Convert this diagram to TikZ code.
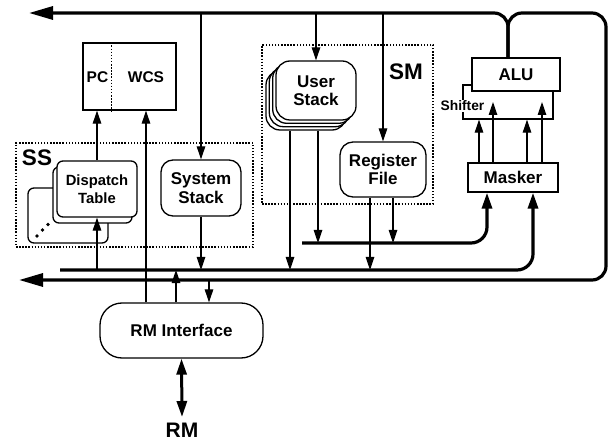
\documentclass[tikz,border=0pt]{standalone}
\usepackage{fontspec}
\setmainfont{Liberation Sans}
\usetikzlibrary{arrows.meta}
\begin{document}
\begin{tikzpicture}[x=1pt,y=-1pt,
  lbl/.style={font=\bfseries\fontsize{17}{18.5}\selectfont, align=center},
  rbox/.style={draw, line width=1.3pt, fill=white, rounded corners=#1, inner sep=0pt},
  rbox/.default=12pt,
  sqbox/.style={draw, line width=1.3pt, fill=white, inner sep=0pt},
  dotbox/.style={draw, line width=1.7pt, dash pattern=on 1.5pt off 1.6pt, inner sep=0pt},
  divider/.style={line width=1.5pt, dash pattern=on 1.5pt off 1.6pt},
  thinarr/.style={line width=1.2pt, -{Triangle[length=13pt,width=8.5pt]}},
  bus/.style={line width=3.2pt},
  busarr/.style={bus, -{Triangle[length=24pt,width=13pt]}},
  fatarr/.style={line width=3pt, -{Triangle[length=16pt,width=10pt]}},
  biglbl/.style={font=\bfseries\fontsize{22.5}{22.5}\selectfont}
]
\useasboundingbox (0,0) rectangle (612,443);

% grouping boxes
\node[dotbox, minimum width=237pt, minimum height=104pt] (ss) at (134.5,195) {};
\node[biglbl] (sslbl) at (37,157.5) {SS};
\node[dotbox, minimum width=171pt, minimum height=159pt] (sm) at (347.5,124.5) {};
\node[biglbl] (smlbl) at (406,72) {SM};

% PC / WCS
\node[sqbox, minimum width=93pt, minimum height=67pt] (pcwcs) at (129.5,76.5) {};
\draw[divider] ([xshift=29pt]pcwcs.north west) -- ([xshift=29pt]pcwcs.south west);
\node[font=\bfseries\fontsize{15.5}{15.5}\selectfont] (pc) at (97.5,77.5) {PC};
\node[font=\bfseries\fontsize{15.5}{15.5}\selectfont] (wcs) at (146,77.5) {WCS};

% Dispatch table stack
\node[rbox=6pt, minimum width=80pt, minimum height=55pt] (dt3) at (68,215.5) {};
\fill (37,236) circle (1.9pt) (42.5,230) circle (1.9pt) (48,224.5) circle (1.9pt);
\node[rbox=6pt, minimum width=79pt, minimum height=56pt] (dt2) at (92.5,195) {};
\node[rbox=6pt, minimum width=80pt, minimum height=56pt,
      font=\bfseries\fontsize{14.8}{17.5}\selectfont, align=center] (dt) at (97,189) {Dispatch\\Table};

% System stack
\node[rbox=12pt, minimum width=80pt, minimum height=56pt, lbl] (sys) at (201,188) {System\\Stack};

% User stack (stacked copies)
\node[rbox=14pt, minimum width=80pt, minimum height=59pt] (us3) at (306,100.5) {};
\node[rbox=14pt, minimum width=80pt, minimum height=59pt] (us2) at (309.3,97.2) {};
\node[rbox=14pt, minimum width=80pt, minimum height=59pt] (us1) at (312.7,93.8) {};
\node[rbox=14pt, minimum width=80pt, minimum height=59pt, lbl] (us) at (316,90.5) {User\\Stack};

% Register file
\node[rbox=13pt, minimum width=86pt, minimum height=55pt, lbl] (rf) at (383,169.5) {Register\\File};

% Shifter, ALU, Masker
\node[sqbox, fill=none, minimum width=90pt, minimum height=34pt] (shf) at (508,102) {};
\node[sqbox, minimum width=88pt, minimum height=33pt, lbl] (alu) at (516,74.5) {ALU};
\node[fill=white, inner sep=0.8pt, font=\bfseries\fontsize{13.8}{13.8}\selectfont] (shtxt) at (462.5,106) {Shifter};
\node[sqbox, minimum width=90pt, minimum height=29pt, lbl] (masker) at (513,177.5) {Masker};

% RM interface
\node[rbox=22pt, minimum width=163pt, minimum height=55pt, lbl] (rmi) at (181.5,330.5) {RM Interface};
\node[anchor=north, inner xsep=0pt, inner ysep=6pt, font=\bfseries\fontsize{21}{21}\selectfont] (rm) at (182,417) {RM};

% bus end points
\coordinate (topL) at (29,13);
\coordinate (botL) at (19,280);
\coordinate (ubL) at (60,270);
\coordinate (mbL) at (302,243);
\coordinate (rx) at (606,13);
\coordinate (aluin) at ([xshift=-8pt]alu.north);

% main buses
\draw[busarr, rounded corners=14pt] (aluin) -- (aluin |- topL) -- (topL);
\draw[busarr, rounded corners=14pt] (aluin) -- (aluin |- topL) -- (rx) -- (rx |- botL) -- (botL);
\draw[bus, -{Triangle[length=16pt,width=10pt]}, rounded corners=16pt] (ubL) -| ([xshift=20pt]masker.south);
\draw[bus, -{Triangle[length=16pt,width=10pt]}, rounded corners=16pt] (mbL) -| ([xshift=-26pt]masker.south);

% top bus taps
\draw[thinarr] (sys.north |- topL) -- (sys.north);
\draw[thinarr] (us.north |- topL) -- (us.north);
\draw[thinarr] (rf.north |- topL) -- (rf.north);

% SS connections
\draw[thinarr] (sys.south) -- (sys.south |- ubL);
\draw[thinarr] (dt.south |- ubL) -- (dt.south);
\draw[thinarr] (dt.north) -- (dt.north |- pcwcs.south);

% SM connections
\coordinate (u1) at ([xshift=-16pt]us3.south);
\coordinate (u2) at ([xshift=12pt]us3.south);
\draw[thinarr] (u1) -- (u1 |- ubL);
\draw[thinarr] (u2) -- (u2 |- mbL);
\coordinate (r1) at ([xshift=-13pt]rf.south);
\coordinate (r2) at ([xshift=10pt]rf.south);
\draw[thinarr] (r1) -- (r1 |- ubL);
\draw[thinarr] (r2) -- (r2 |- mbL);

% RM interface connections
\coordinate (w1) at ([xshift=-35.5pt]rmi.north);
\coordinate (w2) at ([xshift=-5.5pt]rmi.north);
\coordinate (w3) at ([xshift=27.5pt]rmi.north);
\draw[thinarr] (w1) -- (w1 |- pcwcs.south);
\draw[thinarr] (w2) -- (w2 |- ubL);
\draw[thinarr] (w3 |- botL) -- (w3);
\draw[line width=3pt, {Triangle[length=16pt,width=10pt]}-{Triangle[length=16pt,width=10pt]}] (rmi.south) -- (rm.north);

% Masker to ALU / Shifter
\coordinate (m1) at ([xshift=-34pt]masker.north);
\coordinate (m2) at ([xshift=-20pt]masker.north);
\coordinate (m3) at ([xshift=14pt]masker.north);
\coordinate (m4) at ([xshift=29pt]masker.north);
\draw[thinarr] (m1) -- (m1 |- shf.south);
\draw[thinarr] (m2) -- (m2 |- shf.center);
\draw[thinarr] (m3) -- (m3 |- shf.south);
\draw[thinarr] (m4) -- (m4 |- shf.center);
\end{tikzpicture}
\end{document}
